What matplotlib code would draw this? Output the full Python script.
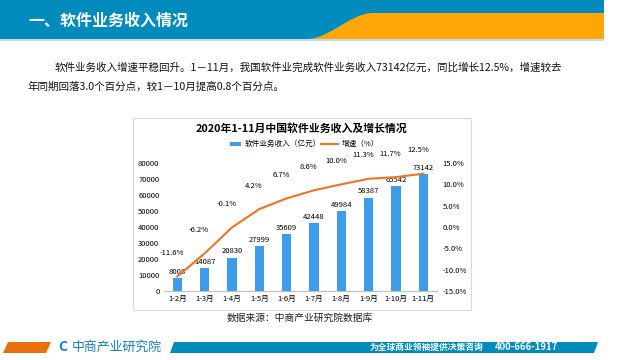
import numpy as np
import matplotlib
matplotlib.use("Agg")
import matplotlib.pyplot as plt
from matplotlib.patches import Polygon, Rectangle
from matplotlib.lines import Line2D

plt.rcParams['font.family'] = ['Noto Sans CJK SC', 'DejaVu Sans']

# data
months = ["1-2月", "1-3月", "1-4月", "1-5月", "1-6月", "1-7月", "1-8月", "1-9月", "1-10月", "1-11月"]
revenue = [8008, 14087, 20830, 27999, 35609, 42448, 49984, 58387, 65542, 73142]
growth = [-11.6, -6.2, -0.1, 4.2, 6.7, 8.6, 10.0, 11.3, 11.7, 12.5]
left_ticks = [0, 10000, 20000, 30000, 40000, 50000, 60000, 70000, 80000]
right_ticks = [-15, -10, -5, 0, 5, 10, 15]

BLUE = "#008BBD"
ORANGE = "#FFA708"
BAR = "#3E9CEA"
LINE = "#F07427"

fig = plt.figure(figsize=(6.4, 3.6), dpi=100)
fig.patch.set_facecolor("white")

# background axes in pixel coordinates
bg = fig.add_axes([0, 0, 1, 1])
bg.set_xlim(0, 640)
bg.set_ylim(360, 0)
bg.axis("off")

# header band with orange swoosh
bg.add_patch(Rectangle((0, 0), 604, 39, color=BLUE, lw=0))
t = np.linspace(0, 1, 40)
cx = 307 + 66 * t
cy = 39 - 26 * (3 * t**2 - 2 * t**3)
swoosh = list(zip(cx, cy)) + [(604, 13), (604, 39)]
bg.add_patch(Polygon(swoosh, closed=True, color=ORANGE, lw=0))
bg.add_patch(Rectangle((0, 39), 604, 1.5, color="#BFDDEB", lw=0))
bg.text(28, 21, "一、软件业务收入情况", color="white", fontsize=11.5,
        fontweight="bold", va="center", ha="left")

# body text
bg.text(55, 68, "软件业务收入增速平稳回升。1－11月，我国软件业完成软件业务收入73142亿元，同比增长12.5%，增速较去",
        fontsize=7.6, va="center", ha="left", color="#111111")
bg.text(27, 87, "年同期回落3.0个百分点，较1－10月提高0.8个百分点。",
        fontsize=7.6, va="center", ha="left", color="#111111")

# chart frame
bg.add_patch(Rectangle((133, 118), 338, 192, fill=False, ec="#D9D9D9", lw=0.8))
bg.text(301, 129, "2020年1-11月中国软件业务收入及增长情况", fontsize=7.8,
        fontweight="bold", ha="center", va="center")
bg.text(300, 318, "数据来源：中商产业研究院数据库", fontsize=7, ha="center", va="center",
        color="#222222")

# footer
bg.add_patch(Polygon([(8, 342), (51, 342), (46, 353), (3, 353)], closed=True,
                     color="#E8700C", lw=0))
bg.add_patch(Polygon([(174, 342), (598, 342), (594, 353), (170, 353)], closed=True,
                     color=BLUE, lw=0))
bg.text(72, 347, "中商产业研究院", fontsize=9.3, color="#1A7FC0", ha="left", va="center")
bg.text(63, 347, "C", fontsize=10, color="#1A7FC0", fontweight="bold", ha="center", va="center")
bg.text(483, 347, "为全球商业领袖提供决策咨询", fontsize=6.3, color="white",
        fontweight="bold", ha="right", va="center")
bg.text(495, 347, "400-666-1917", fontsize=6.8, color="white",
        fontweight="bold", ha="left", va="center")

# main chart
ax = fig.add_axes([163.6 / 640, (360 - 291) / 360, (437 - 163.6) / 640, 128 / 360])
x = np.arange(len(months))
ax.bar(x, revenue, width=0.34, color=BAR, zorder=2)
ax.set_xlim(-0.5, len(months) - 0.5)
ax.set_ylim(0, 80000)
ax.set_yticks(left_ticks)
ax.set_yticklabels([str(v) for v in left_ticks], fontsize=5.5)
ax.set_xticks(x)
ax.set_xticklabels(months, fontsize=5.5)
ax.tick_params(length=0, pad=3)
for s in ["top", "right", "left"]:
    ax.spines[s].set_visible(False)
ax.spines["bottom"].set_color("#BFBFBF")
ax.spines["bottom"].set_linewidth(0.8)
for xi, v in zip(x, revenue):
    ax.text(xi, v + 1500, str(v), fontsize=5.5, ha="center", va="bottom")

ax2 = ax.twinx()
ax2.plot(x, growth, color=LINE, lw=1.5, zorder=3)
ax2.set_ylim(-15, 15)
ax2.set_yticks(right_ticks)
ax2.set_yticklabels(["%.1f%%" % v for v in right_ticks], fontsize=5.5)
ax2.tick_params(length=0, pad=4)
for s in ["top", "right", "left", "bottom"]:
    ax2.spines[s].set_visible(False)
for xi, g in zip(x, growth):
    ax2.text(xi - 0.2, g + 5.5, "%.1f%%" % g, fontsize=5.5, ha="center", va="center")

# legend
bg.add_patch(Rectangle((230, 142), 11, 3.5, color=BAR, lw=0))
bg.text(245, 144, "软件业务收入（亿元）", fontsize=5.5, ha="left", va="center")
bg.add_line(Line2D([321, 338], [144, 144], color=LINE, lw=1.5))
bg.text(342, 144, "增速（%）", fontsize=5.5, ha="left", va="center")

fig.savefig("out.png", dpi=100)
